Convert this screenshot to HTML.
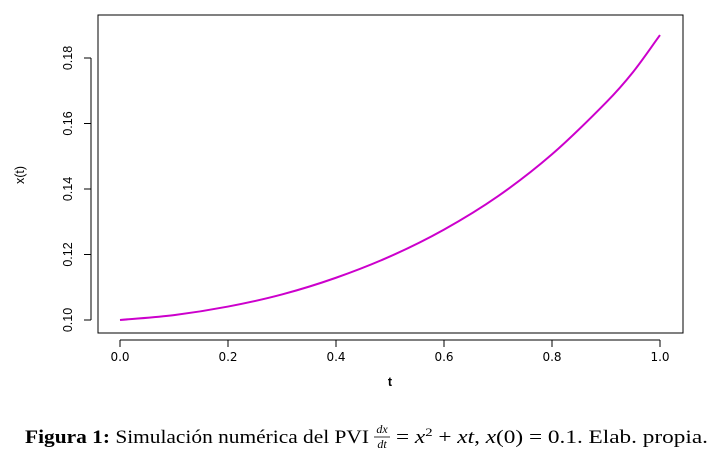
<!DOCTYPE html>
<html><head><meta charset="utf-8"><style>
body{margin:0;background:#fff;width:720px;height:455px;overflow:hidden}
svg{display:block}
</style></head><body>
<svg width="720" height="455" xmlns="http://www.w3.org/2000/svg">
<g id="plot"></g>
<g font-family="Liberation Serif, serif" font-size="19">
<text x="25" y="443" textLength="344" lengthAdjust="spacingAndGlyphs"><tspan font-weight="bold">Figura 1:</tspan> Simulación numérica del PVI</text>
<text x="382" y="433" font-size="12" font-style="italic" text-anchor="middle">dx</text>
<line x1="374" x2="390" y1="437" y2="437" stroke="#000" stroke-width="0.8"/>
<text x="382" y="448" font-size="12" font-style="italic" text-anchor="middle">dt</text>
<text x="396" y="443" textLength="312" lengthAdjust="spacingAndGlyphs">= <tspan font-style="italic">x</tspan><tspan font-size="12" dy="-7">2</tspan><tspan dy="7"> + </tspan><tspan font-style="italic">xt</tspan>,  <tspan font-style="italic">x</tspan>(0) = 0.1. Elab. propia.</text>
</g>
</svg>
<script>
const tValues=[0,0.1,0.2,0.3,0.4,0.5,0.6,0.7,0.8,0.9,0.95,1.0];
const xValues=[0.1,0.1015,0.1041,0.1078,0.1129,0.1194,0.1276,0.1378,0.1506,0.1664,0.1757,0.187];
const xTicks=[0,0.2,0.4,0.6,0.8,1.0];
const xTickLabels=["0.0","0.2","0.4","0.6","0.8","1.0"];
const yTicks=[0.10,0.12,0.14,0.16,0.18];
const yTickLabels=["0.10","0.12","0.14","0.16","0.18"];
const NS="http://www.w3.org/2000/svg";
const g=document.getElementById('plot');
const sx=t=>120+t*540;
const sy=v=>320-(v-0.10)/0.02*65.5;
function mk(tag,attrs,txt){const e=document.createElementNS(NS,tag);for(const k in attrs)e.setAttribute(k,attrs[k]);if(txt!==undefined)e.textContent=txt;g.appendChild(e);return e;}
const box=mk('rect',{x:98,y:15,width:585,height:318,fill:'none',stroke:'#000','stroke-width':1});


const xa=mk('line',{x1:sx(0),x2:sx(1),y1:340,y2:340,stroke:'#000'});


xTicks.forEach((t,i)=>{
 const l=mk('line',{x1:sx(t),x2:sx(t),y1:340,y2:347,stroke:'#000'});
 
 
 const tx=mk('text',{x:sx(t),y:361,'font-family':'DejaVu Sans, sans-serif','font-size':12,'text-anchor':'middle'},xTickLabels[i]);
 
 
});
const ya=mk('line',{x1:91,x2:91,y1:sy(0.10),y2:sy(0.18),stroke:'#000'});


yTicks.forEach((v,i)=>{
 const y=sy(v);
 const l=mk('line',{x1:84,x2:91,y1:y,y2:y,stroke:'#000'});
 
 
 const tx=mk('text',{x:0,y:0,transform:`translate(72,${y}) rotate(-90)`,'font-family':'Liberation Sans, sans-serif','font-size':12.5,'text-anchor':'middle'},yTickLabels[i]);
 
 
});
const xl=mk('text',{x:390,y:386,'font-family':'Liberation Sans, sans-serif','font-size':12.5,'font-weight':'bold','text-anchor':'middle'},'t');


const yl=mk('text',{x:0,y:0,transform:'translate(24,175) rotate(-90)','font-family':'Liberation Sans, sans-serif','font-size':12.5,'text-anchor':'middle'},'x(t)');


const P=tValues.map((t,i)=>[sx(t),sy(xValues[i])]);
let d=`M${P[0][0]},${P[0][1]}`;
for(let i=0;i<P.length-1;i++){
 const p0=P[Math.max(0,i-1)],p1=P[i],p2=P[i+1],p3=P[Math.min(P.length-1,i+2)];
 const k1=(p2[0]-p1[0])/(p2[0]-p0[0]||1), k2=(p2[0]-p1[0])/(p3[0]-p1[0]||1);
 const c1=[p1[0]+(p2[0]-p0[0])*k1/3,p1[1]+(p2[1]-p0[1])*k1/3];
 const c2=[p2[0]-(p3[0]-p1[0])*k2/3,p2[1]-(p3[1]-p1[1])*k2/3];
 d+=` C${c1[0]},${c1[1]} ${c2[0]},${c2[1]} ${p2[0]},${p2[1]}`;
}
const line=mk('path',{d:d,fill:'none',stroke:'#cc00cc','stroke-width':2});


</script>
</body></html>
